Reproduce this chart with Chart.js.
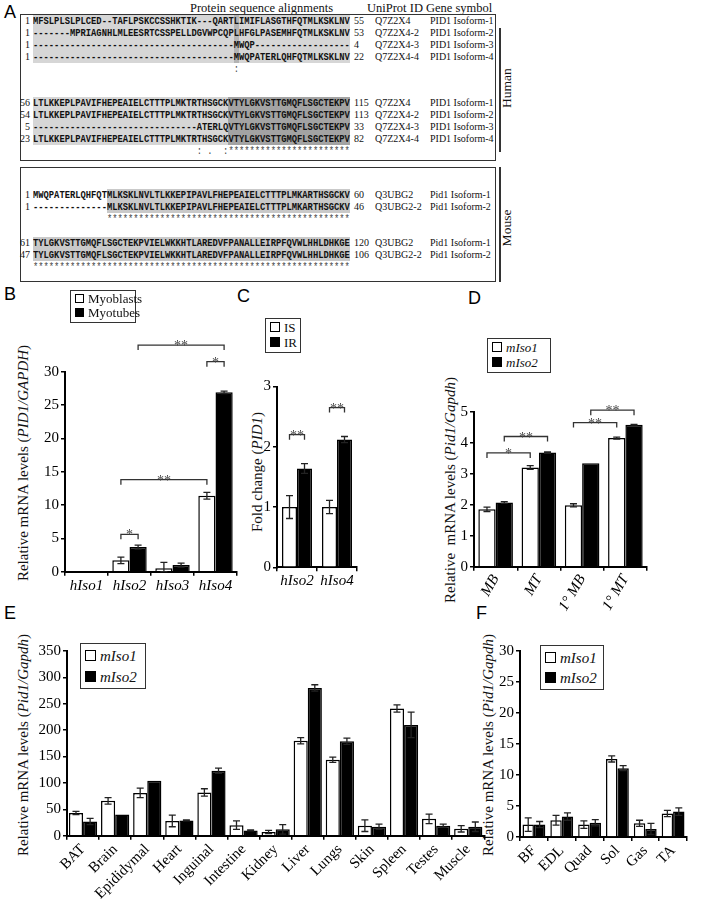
<!DOCTYPE html>
<html>
<head>
<meta charset="utf-8">
<script src="https://cdn.jsdelivr.net/npm/chart.js@4.4.1/dist/chart.umd.min.js"></script>
<style>
  body { margin: 0; width: 703px; height: 900px; position: relative; overflow: hidden; background: #fff;
         font-family: "Liberation Serif", "Times New Roman", serif; color: #111; }
  .a { position: absolute; white-space: pre; }
  .seq { font: bold 11px/12px "Liberation Mono", monospace; transform: scaleX(0.8); transform-origin: 0 0; }
  .num { font-size: 10px; line-height: 12px; }
  .hdr { font-size: 12.5px; line-height: 14px; }
  .panel { font: 18px/18px "Liberation Sans", Arial, sans-serif; color: #000; }
  .box { position: absolute; border: 1.5px solid #333; box-sizing: border-box; }
  .vline { position: absolute; width: 1.5px; background: #333; }
  .ytitle { position: absolute; white-space: nowrap; font-size: 15px; transform: translate(-50%, -50%) rotate(-90deg); }
  .side { font-size: 13.5px; }
  .legend { position: absolute; border: 1.5px solid #333; box-sizing: border-box; background: #fff; z-index: 2; }
  .legend div { position: absolute; left: 4px; white-space: nowrap; }
  .sw { display: inline-block; border: 1.3px solid #000; box-sizing: border-box; margin-right: 4px; }
  canvas { position: absolute; }
</style>
</head>
<body>
<div id="panelA"></div>
<canvas id="chartB"></canvas>
<canvas id="chartC"></canvas>
<canvas id="chartD"></canvas>
<canvas id="chartE"></canvas>
<canvas id="chartF"></canvas>
<script>
// ---- chart data ----
const bCategories = ['hIso1', 'hIso2', 'hIso3', 'hIso4'];
const bMyoblasts = [0, 1.7, 0.5, 11.4];
const bMyoblastsErr = [0, 0.5, 0.9, 0.5];
const bMyotubes = [0, 3.7, 1.0, 26.9];
const bMyotubesErr = [0, 0.3, 0.3, 0.2];

const cCategories = ['hIso2', 'hIso4'];
const cIS = [1.0, 1.0];
const cISErr = [0.19, 0.11];
const cIR = [1.64, 2.12];
const cIRErr = [0.08, 0.05];

const dCategories = ['MB', 'MT', '1° MB', '1° MT'];
const dIso1 = [1.85, 3.2, 1.98, 4.15];
const dIso1Err = [0.07, 0.06, 0.05, 0.03];
const dIso2 = [2.07, 3.68, 3.34, 4.58];
const dIso2Err = [0.03, 0.02, 0, 0.01];

const eCategories = ['BAT', 'Brain', 'Epididymal', 'Heart', 'Inguinal', 'Intestine', 'Kidney',
                     'Liver', 'Lungs', 'Skin', 'Spleen', 'Testes', 'Muscle'];
const eIso1 = [43, 66, 81, 28, 82, 20, 7, 180, 144, 19, 241, 32, 13];
const eIso1Err = [3, 6, 9, 11, 7, 8, 3, 6, 5, 11, 7, 9, 6];
const eIso2 = [27, 40, 104, 29, 123, 10, 12, 280, 179, 17, 210, 19, 17];
const eIso2Err = [6, 0, 0, 1, 5, 1, 9, 6, 6, 5, 24, 3, 9];

const fCategories = ['BF', 'EDL', 'Quad', 'Sol', 'Gas', 'TA'];
const fIso1 = [2.0, 2.7, 2.0, 12.6, 2.2, 3.8];
const fIso1Err = [1.1, 0.8, 0.6, 0.5, 0.5, 0.5];
const fIso2 = [2.0, 3.3, 2.3, 11.1, 1.3, 4.1];
const fIso2Err = [0.5, 0.6, 0.5, 0.4, 0.9, 0.6];

// significance brackets: [category, dataset] -> [category, dataset], height in data units
const bBrackets = [
  { a: [1, 0], b: [1, 1], y: 5.6, t: '*' },
  { a: [1, 0], b: [3, 0], y: 13.8, t: '**' },
  { a: [3, 0], b: [3, 1], y: 31.5, t: '*' },
  { a: [1, 1], b: [3, 1], y: 34, t: '**' }
];
const cBrackets = [
  { a: [0, 0], b: [0, 1], y: 2.2, t: '**' },
  { a: [1, 0], b: [1, 1], y: 2.65, t: '**' }
];
const dBrackets = [
  { a: [0, 0], b: [1, 0], y: 3.67, t: '*' },
  { a: [0, 1], b: [1, 1], y: 4.2, t: '**' },
  { a: [2, 0], b: [3, 0], y: 4.65, t: '**' },
  { a: [2, 1], b: [3, 1], y: 5.05, t: '**' }
];

// ---- panel A text ----
const humanBlock1 = [
  [1, 'MFSLPLSLPLCED--TAFLPSKCCSSHKTIK---QARTLIMIFLASGTHFQTMLKSKLNV', 55, 'Q7Z2X4', 'PID1 Isoform-1'],
  [1, '-------MPRIAGNHLMLEESRTCSSPELLDGVWPCQPLHFGLPASEMHFQTMLKSKLNV', 53, 'Q7Z2X4-2', 'PID1 Isoform-2'],
  [1, '-'.repeat(38) + 'MWQP' + '-'.repeat(18), 4, 'Q7Z2X4-3', 'PID1 Isoform-3'],
  [1, '-'.repeat(38) + 'MWQPATERLQHFQTMLKSKLNV', 22, 'Q7Z2X4-4', 'PID1 Isoform-4']
];
const humanSeq2 = 'LTLKKEPLPAVIFHEPEAIELCTTTPLMKTRTHSGCKVTYLGKVSTTGMQFLSGCTEKPV';
const humanBlock2 = [
  [56, humanSeq2, 115, 'Q7Z2X4', 'PID1 Isoform-1'],
  [54, humanSeq2, 113, 'Q7Z2X4-2', 'PID1 Isoform-2'],
  [5, '-'.repeat(31) + 'ATERLQVTYLGKVSTTGMQFLSGCTEKPV', 33, 'Q7Z2X4-3', 'PID1 Isoform-3'],
  [23, humanSeq2, 82, 'Q7Z2X4-4', 'PID1 Isoform-4']
];
const mouseBlock1 = [
  [1, 'MWQPATERLQHFQTMLKSKLNVLTLKKEPIPAVLFHEPEAIELCTTTPLMKARTHSGCKV', 60, 'Q3UBG2', 'Pid1 Isoform-1'],
  [1, '-'.repeat(14) + 'MLKSKLNVLTLKKEPIPAVLFHEPEAIELCTTTPLMKARTHSGCKV', 46, 'Q3UBG2-2', 'Pid1 Isoform-2']
];
const mouseSeq2 = 'TYLGKVSTTGMQFLSGCTEKPVIELWKKHTLAREDVFPANALLEIRPFQVWLHHLDHKGE';
const mouseBlock2 = [
  [61, mouseSeq2, 120, 'Q3UBG2', 'Pid1 Isoform-1'],
  [47, mouseSeq2, 106, 'Q3UBG2-2', 'Pid1 Isoform-2']
];

const X0 = 33, CW = 5.28;
const A = document.getElementById('panelA');

function put(html, cls, css) {
  const d = document.createElement('div');
  d.className = cls;
  d.innerHTML = html;
  Object.assign(d.style, css);
  A.appendChild(d);
  return d;
}

function block(lines, rowYs, shades, marks, marksY) {
  shades.forEach(([c0, c1, col]) => {
    put('', 'a', { left: X0 + c0 * CW + 'px', width: (c1 - c0) * CW + 'px',
                   top: rowYs[0] - 6 + 'px', height: rowYs[rowYs.length - 1] - rowYs[0] + 12 + 'px', background: col });
  });
  lines.forEach((ln, i) => {
    const y = rowYs[i] - 6 + 'px';
    put(String(ln[0]), 'a num', { left: '0px', width: '30px', textAlign: 'right', top: y });
    put(ln[1], 'a seq', { left: X0 + 'px', top: y });
    put(String(ln[2]), 'a num', { left: '354px', top: y });
    put(ln[3], 'a num', { left: '375px', top: y });
    put(ln[4], 'a num', { left: '430px', top: y });
  });
  put(marks, 'a seq', { left: X0 + 'px', top: marksY - 6 + 'px', color: '#444', fontWeight: 'normal' });
}

put('A', 'a panel', { left: '4px', top: '3px' });
put('Protein sequence alignments', 'a hdr', { left: '190px', top: '1px' });
put('UniProt ID', 'a hdr', { left: '367px', top: '1px' });
put('Gene symbol', 'a hdr', { left: '426px', top: '1px' });
put('', 'box', { left: '20px', top: '14px', width: '476px', height: '147px' });
put('', 'box', { left: '20px', top: '167px', width: '476px', height: '115px' });
put('', 'vline', { left: '499px', top: '28px', height: '124px' });
put('', 'vline', { left: '499px', top: '167px', height: '115px' });
put('Human', 'ytitle side', { left: '507px', top: '88px' });
put('Mouse', 'ytitle side', { left: '507px', top: '228px' });

block(humanBlock1, [21, 33, 45, 57], [[0, 60, '#d6d6d6'], [38, 39, '#b4b4b4']],
      ' '.repeat(38) + ':', 69);
block(humanBlock2, [103, 115, 127, 139], [[0, 37, '#d6d6d6'], [37, 60, '#a3a3a3']],
      ' '.repeat(31) + ': .  :' + '*'.repeat(23), 151);
block(mouseBlock1, [195, 207], [[14, 60, '#c9c9c9']], ' '.repeat(14) + '*'.repeat(46), 219);
block(mouseBlock2, [243, 255], [[0, 60, '#c9c9c9']], '*'.repeat(60), 267);

// panel letters, y titles, legends
put('B', 'a panel', { left: '4px', top: '285px' });
put('C', 'a panel', { left: '237px', top: '287px' });
put('D', 'a panel', { left: '468px', top: '289px' });
put('E', 'a panel', { left: '4px', top: '604px' });
put('F', 'a panel', { left: '476px', top: '604px' });

put('Relative mRNA levels (<i>PID1/GAPDH</i>)', 'ytitle', { left: '23px', top: '463px' });
put('Fold change (<i>PID1</i>)', 'ytitle', { left: '257px', top: '472px' });
put('Relative&nbsp; mRNA levels (<i>Pid1/Gapdh</i>)', 'ytitle', { left: '450px', top: '490px' });
put('Relative mRNA levels (<i>Pid1/Gapdh</i>)', 'ytitle', { left: '23px', top: '745px' });
put('Relative mRNA levels (<i>Pid1/Gapdh</i>)', 'ytitle', { left: '488px', top: '745px' });

function legend(x, y, w, h, names, rowTops, fontPx, sw, italic) {
  const d = put('', 'legend', { left: x + 'px', top: y + 'px', width: w + 'px', height: h + 'px', fontSize: fontPx + 'px' });
  names.forEach((n, i) => {
    const r = document.createElement('div');
    r.style.top = rowTops[i] + 'px';
    r.style.lineHeight = fontPx + 1 + 'px';
    const fill = i === 0 ? '#fff' : '#000';
    r.innerHTML = '<span class="sw" style="width:' + sw + 'px;height:' + sw + 'px;background:' + fill + '"></span>' +
                  (italic ? '<i>' + n + '</i>' : n);
    d.appendChild(r);
  });
}
legend(70, 290, 66, 33, ['Myoblasts', 'Myotubes'], [1, 15], 13, 9, false);
legend(265, 318, 36, 35, ['IS', 'IR'], [2, 17], 13, 10, false);
legend(487, 338, 64, 35, ['mIso1', 'mIso2'], [2, 17], 13, 10, true);
legend(80, 643, 66, 46, ['mIso1', 'mIso2'], [4, 25], 15, 11, true);
legend(540, 645, 64, 45, ['mIso1', 'mIso2'], [4, 24], 15, 11, true);

// ---- charts ----
const errorBars = {
  id: 'errorBars',
  afterDatasetsDraw(chart, args, opts) {
    const ctx = chart.ctx, ys = chart.scales.y;
    ctx.save();
    ctx.strokeStyle = '#222';
    ctx.lineWidth = 1.3;
    chart.data.datasets.forEach((ds, i) => {
      chart.getDatasetMeta(i).data.forEach((bar, j) => {
        const e = ds.err[j];
        if (!e) return;
        const top = ys.getPixelForValue(ds.data[j] + e);
        const bot = ys.getPixelForValue(Math.max(0, ds.data[j] - e));
        ctx.beginPath();
        ctx.moveTo(bar.x, top); ctx.lineTo(bar.x, bot);
        ctx.moveTo(bar.x - 3.5, top); ctx.lineTo(bar.x + 3.5, top);
        ctx.moveTo(bar.x - 3.5, bot); ctx.lineTo(bar.x + 3.5, bot);
        ctx.stroke();
      });
    });
    ctx.strokeStyle = '#333';
    ctx.fillStyle = '#444';
    ctx.font = '14px "Liberation Serif"';
    ctx.textAlign = 'center';
    ctx.textBaseline = 'alphabetic';
    (opts.brackets || []).forEach(b => {
      const x1 = chart.getDatasetMeta(b.a[1]).data[b.a[0]].x;
      const x2 = chart.getDatasetMeta(b.b[1]).data[b.b[0]].x;
      const y = ys.getPixelForValue(b.y);
      ctx.beginPath();
      ctx.moveTo(x1, y + 5); ctx.lineTo(x1, y); ctx.lineTo(x2, y); ctx.lineTo(x2, y + 5);
      ctx.stroke();
      ctx.fillText(b.t, (x1 + x2) / 2, y + 5);
    });
    ctx.restore();
  }
};

function barChart(id, pos, area, labels, sets, yMax, yStep, catPct, xTicks, brackets) {
  const cv = document.getElementById(id);
  cv.width = pos.w; cv.height = pos.h;
  cv.style.left = pos.x + 'px'; cv.style.top = pos.y + 'px';
  const axisGrid = { drawOnChartArea: false, tickLength: 4, color: '#000', lineWidth: 1.5 };
  new Chart(cv, {
    type: 'bar',
    data: {
      labels,
      datasets: sets.map((s, i) => ({
        data: s[0],
        err: s[1],
        backgroundColor: i === 0 ? '#fff' : '#000',
        borderColor: '#000',
        borderWidth: 1.5,
        categoryPercentage: catPct,
        barPercentage: 1
      }))
    },
    options: {
      responsive: false,
      animation: false,
      devicePixelRatio: 1,
      layout: { padding: { left: 0, bottom: 0, top: area.top - pos.y, right: pos.x + pos.w - area.right } },
      plugins: { legend: { display: false }, tooltip: { enabled: false }, errorBars: { brackets } },
      scales: {
        x: {
          grid: Object.assign({ offset: true }, axisGrid),
          border: { color: '#000', width: 2 },
          ticks: Object.assign({ color: '#000', autoSkip: false, padding: 1 }, xTicks),
          afterFit: s => { s.height = pos.y + pos.h - area.bottom; }
        },
        y: {
          min: 0, max: yMax,
          grid: axisGrid,
          border: { color: '#000', width: 2 },
          ticks: { stepSize: yStep, color: '#000', padding: 2, font: { family: 'Liberation Serif', size: 15 } },
          afterFit: s => { s.width = area.left - pos.x; }
        }
      }
    },
    plugins: [errorBars]
  });
}

const italicTicks = { family: 'Liberation Serif', size: 15, style: 'italic' };
const plainTicks = { family: 'Liberation Serif', size: 15 };

barChart('chartB', { x: 0, y: 320, w: 250, h: 280 }, { left: 65, right: 237, top: 371.7, bottom: 571.7 },
  bCategories, [[bMyoblasts, bMyoblastsErr], [bMyotubes, bMyotubesErr]], 30, 5, 0.8,
  { font: italicTicks, maxRotation: 0, minRotation: 0 }, bBrackets);

barChart('chartC', { x: 262, y: 370, w: 110, h: 230 }, { left: 277, right: 357, top: 386.5, bottom: 567.3 },
  cCategories, [[cIS, cISErr], [cIR, cIRErr]], 3, 1, 0.75,
  { font: italicTicks, maxRotation: 0, minRotation: 0 }, cBrackets);

barChart('chartD', { x: 447, y: 385, w: 210, h: 240 }, { left: 474, right: 647, top: 411.7, bottom: 566.7 },
  dCategories, [[dIso1, dIso1Err], [dIso2, dIso2Err]], 5, 1, 0.8,
  { font: italicTicks, maxRotation: 60, minRotation: 60 }, dBrackets);

barChart('chartE', { x: 30, y: 640, w: 470, h: 260 }, { left: 67, right: 484.3, top: 650.2, bottom: 835.7 },
  eCategories, [[eIso1, eIso1Err], [eIso2, eIso2Err]], 350, 50, 0.88,
  { font: plainTicks, maxRotation: 45, minRotation: 45 }, []);

barChart('chartF', { x: 495, y: 640, w: 200, h: 260 }, { left: 520, right: 687, top: 647, bottom: 837 },
  fCategories, [[fIso1, fIso1Err], [fIso2, fIso2Err]], 30, 5, 0.82,
  { font: plainTicks, maxRotation: 45, minRotation: 45 }, []);
</script>
</body>
</html>
